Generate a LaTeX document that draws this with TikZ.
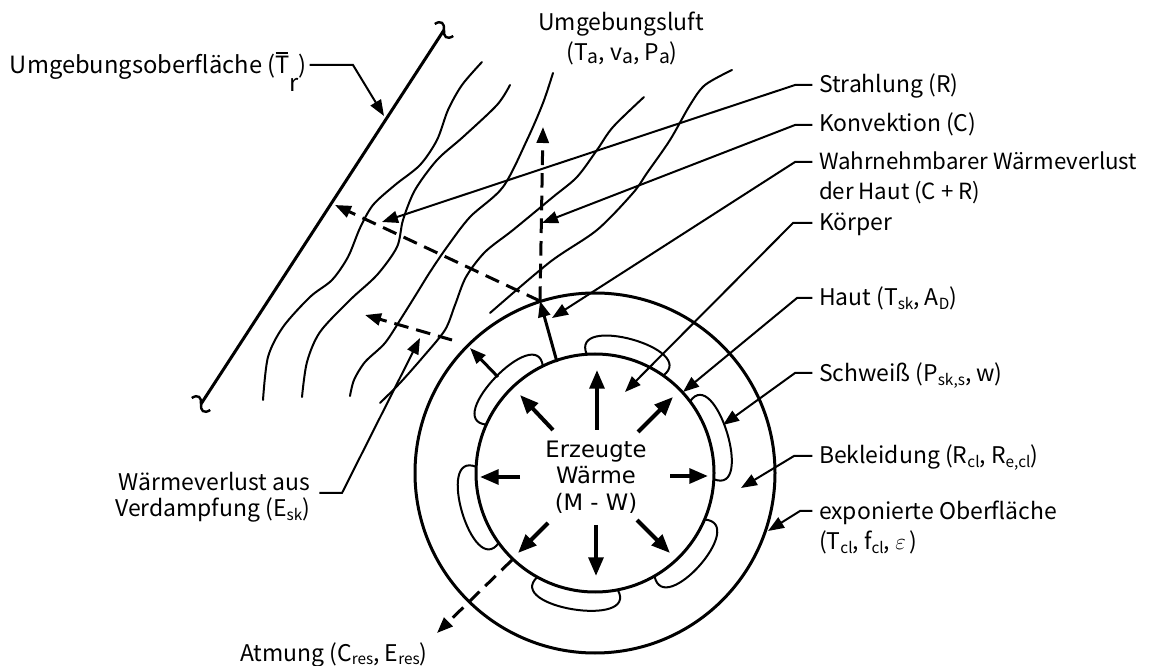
\documentclass[tikz,border=0pt]{standalone}
\usepackage{fontspec}
\setmainfont{Noto Sans CJK JP}
\newfontfamily\ctrfont{DejaVu Sans}
\usetikzlibrary{arrows.meta,calc}
\newcommand\lblsize{\fontsize{17.2}{21}\selectfont}
\newcommand\sbs[1]{\raisebox{-0.3ex}{\fontsize{11.5}{12}\selectfont #1}}
\newcommand\sba[1]{\raisebox{-0.2ex}{\fontsize{14.5}{15}\selectfont #1}}
\newcommand\Tbar{\makebox[0pt][l]{\raisebox{0.84em}{\rule{0.52em}{0.07em}}}T}
\tikzset{
  lbl/.style={font=\lblsize, inner sep=0pt, outer sep=0pt},
  leader/.style={line width=1.5pt, shorten <=5pt, -{Triangle[length=12pt,width=9pt]}},
  wave/.style={line width=1.5pt, line cap=round},
  surf/.style={line width=2.25pt},
  ring/.style={line width=2.25pt},
  bump/.style={line width=1.5pt},
  heat/.style={line width=3pt, -{Triangle[length=14pt,width=11pt]}},
  outarrow/.style={line width=2.25pt, -{Triangle[length=12pt,width=9pt]}},
  dasharrow/.style={line width=2.25pt, dash pattern=on 11pt off 6pt, -{Triangle[length=12pt,width=9pt]}},
}
\begin{document}
\begin{tikzpicture}[x=0.75pt,y=-0.75pt]
\fill[white] (0,0) rectangle (1154,666);
\useasboundingbox (0,0) rectangle (1154,666);

% ---------- surrounding surface ----------
\coordinate (E1) at (444,30);
\coordinate (E2) at (201,404);
\draw[surf] (E1) -- (E2);
\begin{scope}[shift={(E1)}, rotate=-33]
  \draw[surf, line width=1.8pt] (-11,0) .. controls (-8,-7) and (-3,-6) .. (0,0) .. controls (3,6) and (8,7) .. (11,0);
\end{scope}
\begin{scope}[shift={(E2)}, rotate=-33]
  \draw[surf, line width=1.8pt] (-11,0) .. controls (-8,-7) and (-3,-6) .. (0,0) .. controls (3,6) and (8,7) .. (11,0);
\end{scope}

% ---------- air waves ----------
\draw[wave] plot[smooth] coordinates {(482,62) (462,85) (448,110) (437,140) (420,165) (395,185) (373,205) (360,228) (348,257) (332,280) (310,297) (283,327) (268,357) (263,400)};
\draw[wave] plot[smooth] coordinates {(510,85) (497,105) (463,137) (437,160) (415,190) (403,220) (397,247) (377,275) (350,300) (320,332) (307,362) (302,397)};
\draw[wave] plot[smooth] coordinates {(553,73) (543,103) (527,140) (503,187) (470,217) (447,247) (430,272) (417,293) (402,317) (385,343) (365,362) (354,380) (350,396)};
\draw[wave] plot[smooth] coordinates {(644,97) (613,127) (597,150) (577,177) (553,197) (513,230) (485,252) (466,277) (455,305) (445,330) (423,357) (400,383) (380,403)};
\draw[wave] plot[smooth] coordinates {(732,70) (705,85) (690,105) (670,140) (647,173) (633,193) (597,230) (550,262) (490,313)};

% ---------- body, skin, clothing ----------
\coordinate (C) at (595,473);
\draw[ring] (C) circle[radius=180];
\draw[ring] (C) circle[radius=119];
\foreach \a/\b in {156/116, 94/55, 37/-3, -23/-60, -79/-119, 216/177}{
  \draw[bump] ($(C)+(-\a:119)$) .. controls ($(C)+({-\a-5}:162)$) and ($(C)+({-\b+5}:162)$) .. ($(C)+(-\b:119)$);
}

% ---------- generated heat ----------
\node[font=\ctrfont\fontsize{17}{20}\selectfont, align=center, inner sep=0pt] (gen) at (596,477) {Erzeugte\\Wärme\\(M - W)};
\coordinate (hu0) at (597,430); \coordinate (hu1) at (597,370);
\coordinate (hul0) at (553,430); \coordinate (hul1) at (520,395);
\coordinate (hur0) at (638,432); \coordinate (hur1) at (673,397);
\coordinate (hl0) at (520,477); \coordinate (hl1) at (480,477);
\coordinate (hr0) at (670,476); \coordinate (hr1) at (708,476);
\coordinate (hdl0) at (548,523); \coordinate (hdl1) at (518,553);
\coordinate (hd0) at (596,525); \coordinate (hd1) at (596,576);
\coordinate (hdr0) at (637,520); \coordinate (hdr1) at (670,553);
\foreach \n in {hu,hul,hur,hl,hr,hdl,hd,hdr}{\draw[heat] (\n0) -- (\n1);}

% ---------- heat leaving the clothing ----------
\coordinate (skinTop) at (557,362);
\coordinate (clTop) at (540,301);
\coordinate (bumpTL) at (498,377);
\coordinate (clTL) at (470,348);
\draw[outarrow] (skinTop) -- (clTop);
\draw[outarrow] (bumpTL) -- (clTL);
\coordinate (convTip) at (543,127);
\coordinate (radTip) at (335,205);
\coordinate (evS) at (452,340);
\coordinate (evTip) at (365,315);
\coordinate (resS) at (512,560);
\coordinate (resTip) at (437,633);
\draw[dasharrow] (clTop) -- (convTip);
\draw[dasharrow] (clTop) -- (radTip);
\draw[dasharrow] (evS) -- (evTip);
\draw[dasharrow] (resS) -- (resTip);

% ---------- labels ----------
\node[lbl, anchor=base west, font=\fontsize{17.8}{21}\selectfont] (umgo) at (10,74) {Umgebungsoberfläche (\Tbar\raisebox{-0.75em}{r})};
\node[lbl, anchor=base] (luft1) at (621,31) {Umgebungsluft};
\node[lbl, anchor=base] (luft2) at (622,61) {(T\sba{a}, v\sba{a}, P\sba{a})};

\node[lbl, anchor=base west] (strahl) at (819,93) {Strahlung (R)};
\node[lbl, anchor=base west] (konv) at (819,132) {Konvektion (C)};
\node[lbl, anchor=base west, font=\fontsize{16.7}{21}\selectfont] (wahr1) at (819,170) {Wahrnehmbarer Wärmeverlust};
\node[lbl, anchor=base west, font=\fontsize{16.7}{21}\selectfont] (wahr2) at (819,200) {der Haut (C + R)};
\node[lbl, anchor=base west] (koerp) at (819,231) {Körper};
\node[lbl, anchor=base west] (haut) at (819,306) {Haut (T\sbs{sk}, A\sbs{D})};
\node[lbl, anchor=base west] (schw) at (819,382) {Schweiß (P\sbs{sk,s}, w)};
\node[lbl, anchor=base west] (bekl) at (819,464) {Bekleidung (R\sbs{cl}, R\sbs{e,cl})};
\node[lbl, anchor=base west] (expo1) at (819,520) {exponierte Oberfläche};
\node[lbl, anchor=base west] (expo2) at (819,550) {(T\sbs{cl}, f\sbs{cl}, $\varepsilon$\,)};

\node[lbl, anchor=base east] (esk1) at (310,491) {Wärmeverlust aus};
\node[lbl, anchor=base east] (esk2) at (310,517) {Verdampfung (E\sbs{sk})};
\node[lbl, anchor=base west] (atm) at (240,661) {Atmung (C\sbs{res}, E\sbs{res})};

% ---------- leaders ----------
\coordinate (uK) at (353,65);   \coordinate (uT) at (384,116);
\draw[leader, shorten <=2pt] (uK -| umgo.east) -- (uK) -- (uT);
\coordinate (sK) at (795,85);   \coordinate (sT) at (382,222);
\draw[leader] (sK -| strahl.west) -- (sK) -- (sT);
\coordinate (kK) at (795,125);  \coordinate (kT) at (542,223);
\draw[leader] (kK -| konv.west) -- (kK) -- (kT);
\coordinate (wK) at (795,162);  \coordinate (wT) at (552,318);
\draw[leader] (wK -| wahr1.west) -- (wK) -- (wT);
\coordinate (koK) at (793,223); \coordinate (koT) at (625,392);
\draw[leader] (koK -| koerp.west) -- (koK) -- (koT);
\coordinate (hK) at (797,298);  \coordinate (hT) at (683,392);
\draw[leader] (hK -| haut.west) -- (hK) -- (hT);
\coordinate (scK) at (795,373); \coordinate (scT) at (723,425);
\draw[leader] (scK -| schw.west) -- (scK) -- (scT);
\coordinate (bK) at (794,456);  \coordinate (bT) at (741,488);
\draw[leader] (bK -| bekl.west) -- (bK) -- (bT);
\coordinate (eK) at (800,511);  \coordinate (eT) at (768,531);
\draw[leader] (eK -| expo1.west) -- (eK) -- (eT);
\coordinate (evK) at (342,493); \coordinate (evT) at (420,338);
\draw[leader, shorten <=7pt] (evK -| esk1.east) -- (evK) -- (evT);
\end{tikzpicture}
\end{document}
